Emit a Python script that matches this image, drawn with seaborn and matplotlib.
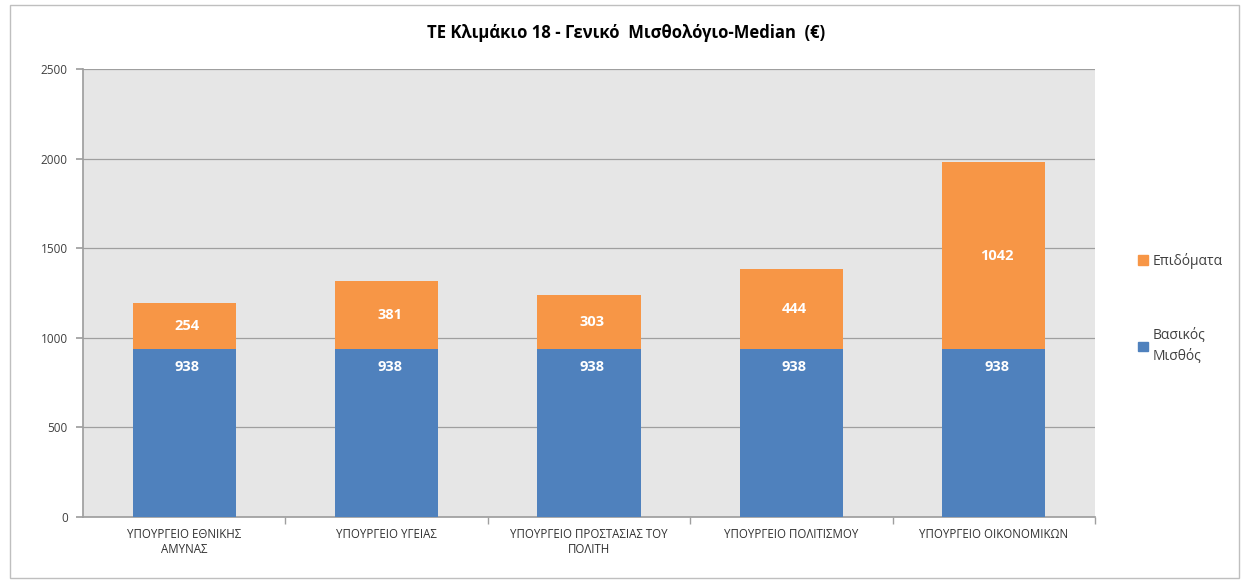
import matplotlib
matplotlib.use("Agg")
import matplotlib.pyplot as plt
import matplotlib.patches as mpatches
import pandas as pd
import seaborn as sns

CATEGORIES = [
    "ΥΠΟΥΡΓΕΙΟ ΕΘΝΙΚΗΣ\nΑΜΥΝΑΣ",
    "ΥΠΟΥΡΓΕΙΟ ΥΓΕΙΑΣ",
    "ΥΠΟΥΡΓΕΙΟ ΠΡΟΣΤΑΣΙΑΣ ΤΟΥ\nΠΟΛΙΤΗ",
    "ΥΠΟΥΡΓΕΙΟ ΠΟΛΙΤΙΣΜΟΥ",
    "ΥΠΟΥΡΓΕΙΟ ΟΙΚΟΝΟΜΙΚΩΝ",
]
BASIC_SALARY = [938, 938, 938, 938, 938]
ALLOWANCES = [254, 381, 303, 444, 1042]
Y_TICKS = [0, 500, 1000, 1500, 2000, 2500]
TITLE = "ΤΕ Κλιμάκιο 18 - Γενικό  Μισθολόγιο-Median  (€)"

BLUE = "#4f81bd"
ORANGE = "#f79646"

sns.set_theme(style="white")
plt.rcParams["font.family"] = ["Open Sans", "DejaVu Sans"]

df = pd.DataFrame({"cat": CATEGORIES, "basic": BASIC_SALARY, "extra": ALLOWANCES})
df["total"] = df["basic"] + df["extra"]

fig = plt.figure(figsize=(12.44, 5.80), dpi=100)
fig.patches.append(mpatches.Rectangle((0.008, 0.004), 0.988, 0.988, transform=fig.transFigure,
                                      fill=False, edgecolor="#bfbfbf", linewidth=1))
ax = fig.add_axes([0.0667, 0.1086, 0.8135, 0.7724])
ax.set_facecolor("#e6e6e6")

sns.barplot(data=df, x="cat", y="total", color=ORANGE, saturation=1, width=0.51,
            linewidth=0, ax=ax, zorder=3)
sns.barplot(data=df, x="cat", y="basic", color=BLUE, saturation=1, width=0.51,
            linewidth=0, ax=ax, zorder=3)

for i, row in df.iterrows():
    ax.text(i + 0.015, row["basic"] - 100, f"{row['basic']}", ha="center", va="center",
            color="white", fontsize=10.5, fontweight="bold", zorder=4)
    ax.text(i + 0.015, row["basic"] + row["extra"] / 2, f"{row['extra']}", ha="center", va="center",
            color="white", fontsize=10.5, fontweight="bold", zorder=4)

ax.set_ylim(0, 2500)
ax.set_xlim(-0.5, len(CATEGORIES) - 0.5)
ax.set_yticks(Y_TICKS)
ax.yaxis.grid(True, color="#9f9f9f", linewidth=0.9, zorder=0)
ax.set_axisbelow(True)
ax.set_xlabel("")
ax.set_ylabel("")
for side in ["top", "right"]:
    ax.spines[side].set_visible(False)
ax.spines["left"].set_color("#9f9f9f")
ax.spines["bottom"].set_color("#9f9f9f")
ax.tick_params(axis="y", length=5, color="#9f9f9f", left=True, labelsize=8.5, labelcolor="#404040", pad=6)
ax.tick_params(axis="x", length=0, labelsize=8.3, labelcolor="#303030", pad=8)
ax.set_xticks(range(len(CATEGORIES)))
ax.set_xticklabels(CATEGORIES)
ax.set_xticks([i + 0.5 for i in range(len(CATEGORIES))], minor=True)
ax.tick_params(axis="x", which="minor", length=5, color="#9f9f9f", bottom=True)

fig.text(0.503, 0.943, TITLE, ha="center", va="center", fontsize=12, fontweight="bold", color="black")

handles = [mpatches.Patch(color=ORANGE, label="Επιδόματα"),
           mpatches.Patch(color=BLUE, label="Βασικός\nΜισθός")]
leg = fig.legend(handles=handles, loc="upper left", bbox_to_anchor=(0.905, 0.585), frameon=False,
                 fontsize=10, handlelength=0.7, handleheight=0.7, handletextpad=0.3, labelspacing=4.2,
                 labelcolor="#404040")
for t in leg.get_texts():
    t.set_linespacing(1.6)

fig.savefig("out.png", dpi=100)
